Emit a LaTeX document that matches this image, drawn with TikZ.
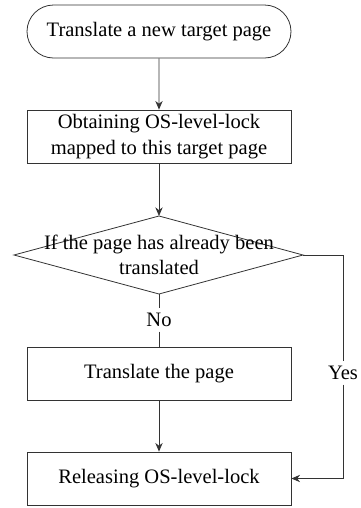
\documentclass[tikz,border=0pt]{standalone}
\usepackage{fontspec}
\setmainfont{Liberation Serif}
\usetikzlibrary{shapes.misc,arrows.meta}

\tikzset{
  flowbox/.style={draw=black!80, line width=0.6pt, rectangle, minimum width=198pt,
    minimum height=39.75pt, inner sep=0pt, align=center},
  startbox/.style={flowbox, rounded rectangle},
  flowline/.style={draw=black!80, line width=0.6pt},
  flowarrow/.style={flowline, -{Stealth[length=6.5pt,width=5.5pt]}}
}

\begin{document}
\begin{tikzpicture}[x=0.75pt, y=-0.75pt, font=\fontsize{15.4}{19}\selectfont]

  \useasboundingbox (0,0) rectangle (361,508);

  \node[startbox] (start)  at (159,31.5)  {Translate a new target page};
  \node[flowbox]  (obtain) at (159,136.5) {Obtaining OS-level-lock\\mapped to this target page};

  % Diamond
  \coordinate (dtop)   at (159,216);
  \coordinate (dleft)  at (14,255);
  \coordinate (dright) at (303,255);
  \coordinate (dbot)   at (159,294);
  \draw[flowline] (dleft) -- (dtop) -- (dright) -- (dbot) -- cycle;
  \node[align=center] (check) at (159,255) {If the page has already been\\translated};

  \node (no) at (159,320) {No};
  \node[flowbox]  (trans)   at (159,373.5) {Translate the page};
  \node[flowbox]  (release) at (159,478.5) {Releasing OS-level-lock};

  \node (yes) at (343,373) {Yes};
  \coordinate (yup)   at (343,255);
  \coordinate (ydown) at (343,478.5);

  % Arrows
  \draw[flowarrow] (start) -- (obtain);
  \draw[flowarrow] (obtain) -- (dtop);
  \draw[flowline]  (dbot) -- (no);
  \draw[flowline]  (no) -- (trans);
  \draw[flowarrow] (trans) -- (release);
  \draw[flowline]  (dright) -- (yup) -- (yes);
  \draw[flowarrow] (yes) -- (ydown) -- (release);

\end{tikzpicture}
\end{document}
